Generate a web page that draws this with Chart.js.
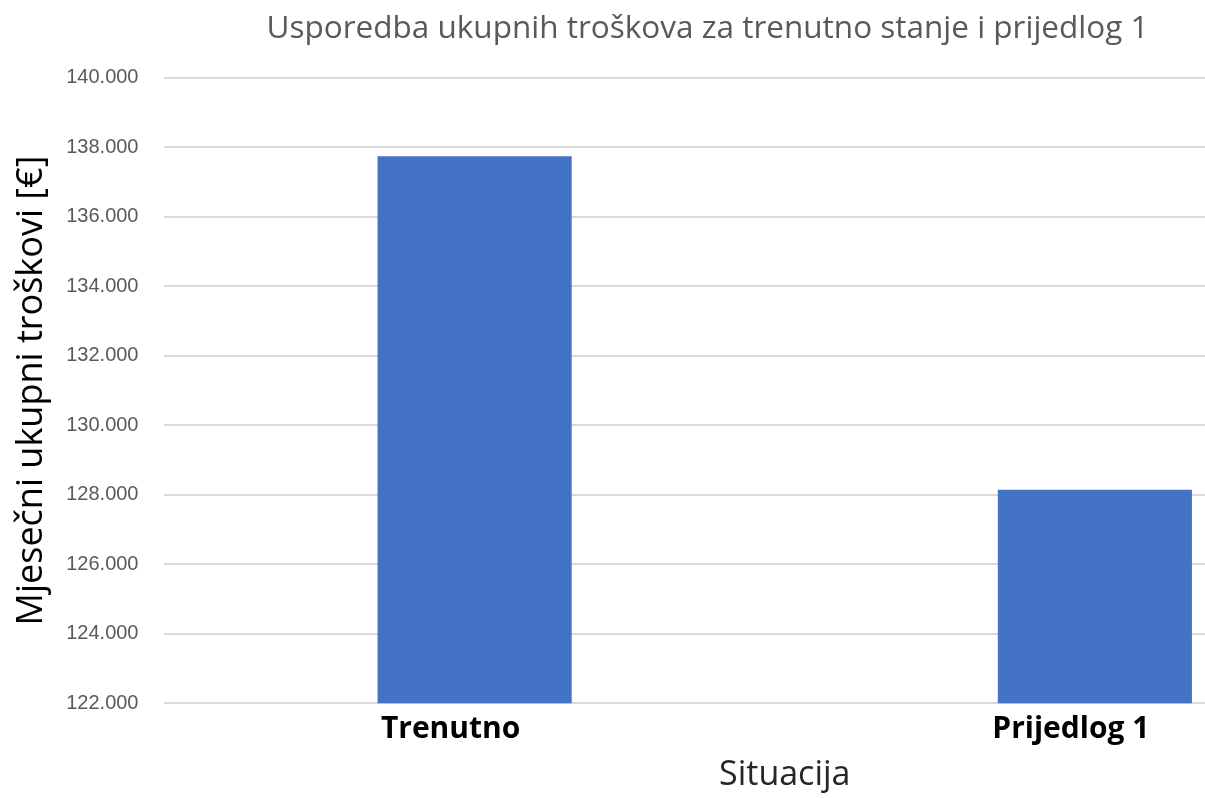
<!DOCTYPE html>
<html>
<head>
<meta charset="utf-8">
<script src="https://cdn.jsdelivr.net/npm/chart.js@4"></script>
<style>
  html, body { margin: 0; padding: 0; background: #fff; overflow: hidden; }
  #wrap { width: 1405px; height: 798px; position: relative; }
</style>
</head>
<body>
<div id="wrap"><canvas id="chart"></canvas></div>
<script>
// Mjesečni ukupni troškovi po situaciji
const situations = ["Trenutno", "Prijedlog 1"];
const monthlyCosts = [137740, 128140];
const yTicks = [122000, 124000, 126000, 128000, 130000, 132000, 134000, 136000, 138000, 140000];

const fmt = v => String(v).replace(/\B(?=(\d{3})+(?!\d))/g, ".");

new Chart(document.getElementById("chart"), {
  type: "bar",
  data: {
    labels: situations,
    datasets: [{
      label: "Mjesečni ukupni troškovi",
      data: monthlyCosts,
      backgroundColor: "#4472c4",
      categoryPercentage: 1,
      barPercentage: 0.313,
    }],
  },
  options: {
    responsive: true, maintainAspectRatio: false, animation: false,
    layout: { padding: { left: 10, top: 10, right: 0, bottom: 2 } },
    plugins: {
      legend: { display: false },
      tooltip: { enabled: false },
      title: {
        display: true,
        text: "Usporedba ukupnih troškova za trenutno stanje i prijedlog 1",
        color: "#595959",
        font: { family: "'Open Sans', sans-serif", size: 31.5, weight: "normal" },
        padding: { top: 0, bottom: 30 },
      },
    },
    scales: {
      x: {
        grid: { display: false, drawTicks: false },
        border: { display: false },
        ticks: {
          color: "#000", padding: 8, labelOffset: -24,
          font: { family: "'Open Sans', sans-serif", size: 30, weight: "bold" },
        },
        title: {
          display: true, text: "Situacija", color: "#262626",
          font: { family: "'Open Sans', sans-serif", size: 34 },
          padding: { top: 0, bottom: 0 },
        },
      },
      y: {
        min: 122000, max: 140000,
        afterBuildTicks: axis => { axis.ticks = yTicks.map(v => ({ value: v })); },
        grid: { color: "#d9d9d9", lineWidth: 2, drawTicks: false },
        border: { display: false },
        ticks: {
          color: "#595959", padding: 26,
          font: { family: "'Liberation Sans', Arial, sans-serif", size: 20 },
          callback: v => fmt(v),
        },
        title: {
          display: true, text: "Mjesečni ukupni troškovi [€]", color: "#000",
          font: { family: "'Open Sans', sans-serif", size: 36 },
          padding: { top: 0, bottom: -13 },
        },
      },
    },
  },
});
</script>
</body>
</html>
